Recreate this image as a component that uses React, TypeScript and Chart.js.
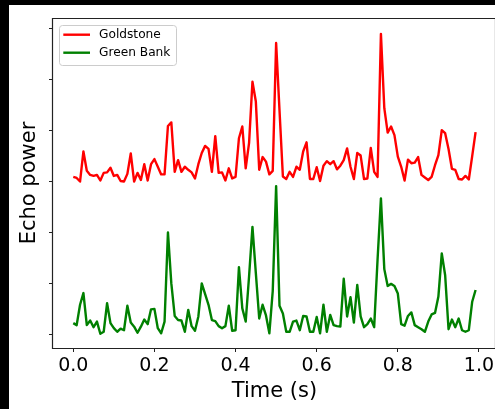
import { useEffect, useRef } from 'react';
import { Chart, registerables } from 'chart.js';

Chart.register(...registerables);

const SAMPLE_RATE = 120; // samples per second (x = index / rate)

const goldstone = [
  3.09, 3.07, 3.00, 3.59, 3.21, 3.13, 3.11, 3.13, 3.02, 3.17,
  3.18, 3.27, 3.11, 3.13, 3.01, 3.00, 3.15, 3.55, 3.00, 3.17,
  3.03, 3.34, 3.02, 3.34, 3.44, 3.29, 3.14, 3.14, 4.09, 4.16,
  3.19, 3.42, 3.19, 3.29, 3.23, 3.18, 3.06, 3.34, 3.56, 3.70,
  3.64, 3.19, 3.89, 3.17, 3.18, 3.02, 3.26, 3.06, 3.09, 3.85,
  4.08, 3.26, 3.76, 4.96, 4.57, 3.23, 3.48, 3.39, 3.14, 3.21,
  5.72, 4.40, 3.10, 3.05, 3.19, 3.09, 3.29, 3.23, 3.59, 3.77,
  3.05, 3.05, 3.28, 3.01, 3.31, 3.40, 3.34, 3.40, 3.24, 3.31,
  3.42, 3.65, 3.29, 3.05, 3.56, 3.51, 3.05, 3.06, 3.66, 3.19,
  3.09, 5.90, 4.44, 3.96, 4.08, 3.91, 3.49, 3.29, 3.02, 3.43,
  3.36, 3.37, 3.48, 3.13, 3.08, 3.03, 3.09, 3.32, 3.52, 4.01,
  3.95, 3.64, 3.25, 3.23, 3.05, 3.04, 3.11, 3.04, 3.50, 3.97,
];

const greenBank = [
  0.22, 0.18, 0.58, 0.81, 0.18, 0.27, 0.14, 0.25, 0.01, 0.05,
  0.61, 0.22, 0.12, 0.05, 0.11, 0.08, 0.56, 0.23, 0.15, 0.03,
  0.15, 0.29, 0.20, 0.49, 0.50, 0.12, 0.02, 0.25, 2.00, 1.00,
  0.36, 0.28, 0.27, 0.05, 0.48, 0.16, 0.07, 0.35, 1.00, 0.79,
  0.58, 0.28, 0.26, 0.16, 0.12, 0.16, 0.56, 0.07, 0.08, 1.32,
  0.51, 0.25, 1.14, 2.11, 1.20, 0.31, 0.58, 0.37, 0.02, 0.85,
  2.91, 0.56, 0.41, 0.05, 0.05, 0.25, 0.27, 0.08, 0.36, 0.35,
  0.05, 0.05, 0.34, 0.02, 0.58, 0.05, 0.38, 0.18, 0.16, 0.15,
  1.09, 0.35, 0.73, 0.23, 0.97, 0.35, 0.14, 0.20, 0.31, 0.14,
  1.46, 2.67, 1.28, 0.95, 0.99, 0.95, 0.80, 0.20, 0.17, 0.36,
  0.43, 0.18, 0.14, 0.10, 0.05, 0.25, 0.39, 0.42, 0.74, 1.59,
  1.16, 0.10, 0.29, 0.14, 0.31, 0.08, 0.05, 0.08, 0.64, 0.87,
];

const xTickValues = [0, 0.2, 0.4, 0.6, 0.8, 1.0];
const yTickValues = [0, 1, 2, 3, 4, 5, 6];
const seriesNames = ['Goldstone', 'Green Bank'];
const seriesColors = ['#ff0000', '#008000'];
const xAxisTitle = 'Time (s)';
const yAxisTitle = 'Echo power';

const FONT = '"DejaVu Sans", "Liberation Sans", sans-serif';

export default function App() {
  const ref = useRef<HTMLCanvasElement>(null);

  useEffect(() => {
    const canvas = ref.current;
    if (!canvas) return;
    const times = goldstone.map((_, i) => i / SAMPLE_RATE);

    const framePlugin = {
      id: 'frame',
      afterDatasetsDraw(chart: any) {
        const { ctx } = chart;
        ctx.save();
        ctx.strokeStyle = '#222';
        ctx.lineWidth = 1.2;
        ctx.beginPath();
        ctx.rect(43.5, 13.5, 443, 330);
        ctx.stroke();
        ctx.restore();
      },
    };

    const legendPlugin = {
      id: 'mplLegend',
      afterDraw(chart: any) {
        const ctx = chart.ctx;
        ctx.save();
        const x = 50.5, y = 20.5, w = 117, h = 40, r = 3;
        ctx.beginPath();
        ctx.moveTo(x + r, y);
        ctx.lineTo(x + w - r, y);
        ctx.arcTo(x + w, y, x + w, y + r, r);
        ctx.lineTo(x + w, y + h - r);
        ctx.arcTo(x + w, y + h, x + w - r, y + h, r);
        ctx.lineTo(x + r, y + h);
        ctx.arcTo(x, y + h, x, y + h - r, r);
        ctx.lineTo(x, y + r);
        ctx.arcTo(x, y, x + r, y, r);
        ctx.closePath();
        ctx.fillStyle = 'rgba(255,255,255,0.8)';
        ctx.fill();
        ctx.strokeStyle = '#cccccc';
        ctx.lineWidth = 1;
        ctx.stroke();
        seriesNames.forEach((name, k) => {
          const ly = 29.7 + k * 18;
          ctx.beginPath();
          ctx.moveTo(54.3, ly);
          ctx.lineTo(81, ly);
          ctx.strokeStyle = seriesColors[k];
          ctx.lineWidth = 2.4;
          ctx.stroke();
          ctx.fillStyle = '#000';
          ctx.font = `12.2px ${FONT}`;
          ctx.textBaseline = 'middle';
          ctx.textAlign = 'left';
          ctx.fillText(name, 90, ly);
        });
        ctx.restore();
      },
    };

    const chart = new Chart(canvas, {
      type: 'line',
      data: {
        datasets: [
          {
            label: seriesNames[0],
            data: goldstone.map((v, i) => ({ x: times[i], y: v })),
            borderColor: seriesColors[0],
            backgroundColor: seriesColors[0],
            borderWidth: 2.4,
            pointRadius: 0,
            tension: 0,
            borderJoinStyle: 'round',
            order: 1,
          },
          {
            label: seriesNames[1],
            data: greenBank.map((v, i) => ({ x: times[i], y: v })),
            borderColor: seriesColors[1],
            backgroundColor: seriesColors[1],
            borderWidth: 2.4,
            pointRadius: 0,
            tension: 0,
            borderJoinStyle: 'round',
            order: 0,
          },
        ],
      },
      options: {
        animation: false,
        responsive: false,
        devicePixelRatio: 1,
        layout: { padding: { left: 0, right: 13, top: 13, bottom: 0 } },
        plugins: {
          legend: { display: false },
          tooltip: { enabled: false },
          title: { display: false },
        },
        scales: {
          x: {
            type: 'linear',
            min: -0.05,
            max: 1.042,
            afterBuildTicks: (scale: any) => {
              scale.ticks = xTickValues.map((v) => ({ value: v }));
            },
            afterFit: (scale: any) => {
              scale.height = 61;
            },
            ticks: {
              autoSkip: false,
              maxRotation: 0,
              padding: 3,
              color: '#000',
              font: { family: FONT, size: 19 },
              callback: (v: any) => Number(v).toFixed(1),
            },
            grid: {
              display: true,
              drawOnChartArea: false,
              drawTicks: true,
              tickLength: 4,
              color: '#222',
              lineWidth: 1,
            },
            border: { display: false },
            title: {
              display: true,
              text: xAxisTitle,
              color: '#000',
              font: { family: FONT, size: 21 },
              padding: { top: 0, bottom: 4.4 },
            },
          },
          y: {
            type: 'linear',
            min: -0.269,
            max: 6.211,
            afterBuildTicks: (scale: any) => {
              scale.ticks = yTickValues.map((v) => ({ value: v }));
            },
            afterFit: (scale: any) => {
              scale.width = 44;
            },
            ticks: { display: false },
            grid: {
              display: true,
              drawOnChartArea: false,
              drawTicks: true,
              tickLength: 4,
              color: '#222',
              lineWidth: 1,
            },
            border: { display: false },
            title: {
              display: true,
              text: yAxisTitle,
              color: '#000',
              font: { family: FONT, size: 21 },
              padding: { top: 8.4, bottom: 0 },
            },
          },
        },
      },
      plugins: [framePlugin, legendPlugin],
    } as any);

    return () => chart.destroy();
  }, []);

  return (
    <div
      style={{
        position: 'fixed',
        left: 0,
        top: 0,
        width: 495,
        height: 409,
        background: '#000',
        overflow: 'hidden',
      }}
    >
      <canvas
        ref={ref}
        width={500}
        height={404}
        style={{
          position: 'absolute',
          left: 9,
          top: 5,
          width: 500,
          height: 404,
          background: '#fff',
        }}
      />
    </div>
  );
}
